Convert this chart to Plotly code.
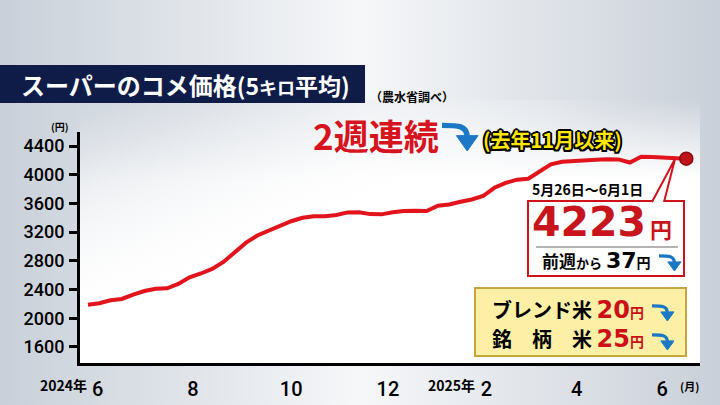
import base64
import pandas as pd
import plotly.graph_objects as go

# ---------------- data ----------------
week_start = pd.date_range("2024-05-27", periods=54, freq="7D")
prices = [2189, 2210, 2251, 2269, 2331, 2380, 2411, 2418, 2478, 2571,
          2624, 2687, 2784, 2915, 3054, 3153, 3220, 3291, 3352, 3400,
          3421, 3422, 3439, 3475, 3476, 3451, 3448, 3478, 3496, 3497,
          3494, 3567, 3586, 3624, 3655, 3703, 3818, 3886, 3931, 3944,
          4049, 4144, 4181, 4194, 4202, 4208, 4215, 4213, 4170, 4250,
          4245, 4238, 4232, 4223]
y_ticks = [1600, 2000, 2400, 2800, 3200, 3600, 4000, 4400]
x_tick_dates = ["2024-06-02", "2024-07-31", "2024-09-30", "2024-11-29",
                "2025-01-29", "2025-03-26", "2025-05-18"]
x_tick_text = ["6", "8", "10", "12", "2", "4", "6"]
latest_label = "5月26日〜6月1日"
latest_price = 4223
weekly_change = 37
blend_change = 20
brand_change = 25

# ---------------- layout helpers ----------------
L, R, T, B = 80, 700, 132, 363
W, H = R - L, B - T


def px(x):
    return (x - L) / W


def py(y):
    return (B - y) / H


RED = "#d7141d"
BLUE = "#1b78c4"
JP = "Noto Sans CJK JP"

bg_svg = """<svg xmlns='http://www.w3.org/2000/svg' width='720' height='405' viewBox='0 0 720 405' preserveAspectRatio='none'>
<defs>
<linearGradient id='h' x1='0' y1='0' x2='1' y2='0'>
<stop offset='0' stop-color='#c9d0d9'/><stop offset='0.28' stop-color='#e2e6eb'/>
<stop offset='0.5' stop-color='#f6f7f9'/><stop offset='0.72' stop-color='#e2e6eb'/>
<stop offset='1' stop-color='#cad0d9'/>
</linearGradient>
<linearGradient id='v' x1='0' y1='0' x2='0' y2='1'>
<stop offset='0' stop-color='#ffffff' stop-opacity='0'/><stop offset='0.3' stop-color='#ffffff' stop-opacity='1'/>
</linearGradient>
<linearGradient id='d' x1='0' y1='0' x2='1' y2='1'>
<stop offset='0' stop-color='#d0d6de' stop-opacity='1'/><stop offset='0.45' stop-color='#ffffff' stop-opacity='0'/>
</linearGradient>
</defs>
<rect width='720' height='405' fill='url(#h)'/>
<rect x='80' y='100' width='620' height='263' fill='url(#v)'/>
<rect x='80' y='100' width='620' height='263' fill='url(#d)'/>
</svg>"""
bg_src = "data:image/svg+xml;base64," + base64.b64encode(bg_svg.encode()).decode()

fig = go.Figure()
fig.add_trace(go.Scatter(
    x=week_start, y=prices, mode="lines",
    line=dict(color="#e3131b", width=4), hoverinfo="skip"))
fig.add_trace(go.Scatter(
    x=[week_start[-1]], y=[prices[-1]], mode="markers",
    marker=dict(size=13, color="#c0121a", line=dict(color="#8a0b10", width=1.5)),
    hoverinfo="skip"))


def arrow(x0, y0, w, h):
    """curved blue arrow (right, then down) inside pixel box"""
    sw = max(2.5, 0.17 * h)
    xs = x0 + 0.70 * w
    path = (f"M {px(x0)},{py(y0 + 0.2 * h)} "
            f"C {px(x0 + 0.45 * w)},{py(y0 + 0.2 * h)} {px(xs)},{py(y0 + 0.2 * h)} "
            f"{px(xs)},{py(y0 + 0.58 * h)}")
    head = (f"M {px(xs - 0.30 * w)},{py(y0 + 0.52 * h)} L {px(xs + 0.30 * w)},{py(y0 + 0.52 * h)} "
            f"L {px(xs)},{py(y0 + h)} Z")
    return [dict(type="path", xref="paper", yref="paper", path=path,
                 line=dict(color=BLUE, width=sw)),
            dict(type="path", xref="paper", yref="paper", path=head,
                 fillcolor=BLUE, line=dict(color=BLUE, width=1))]


shapes = [
    # title box
    dict(type="rect", xref="paper", yref="paper", x0=px(0), x1=px(365),
         y0=py(103), y1=py(65), fillcolor="#0f1c48", line=dict(width=0), layer="above"),
    # callout box
    dict(type="rect", xref="paper", yref="paper", x0=px(528), x1=px(684),
         y0=py(276), y1=py(201), fillcolor="white", line=dict(color="#d0121b", width=2)),
    dict(type="path", xref="paper", yref="paper",
         path=f"M {px(652)},{py(202)} L {px(675)},{py(159)} L {px(664)},{py(202)}",
         fillcolor="white", line=dict(color="#d0121b", width=2)),
    dict(type="line", xref="paper", yref="paper", x0=px(536), x1=px(678),
         y0=py(247), y1=py(247), line=dict(color="#9a9a9a", width=1.5)),
    # yellow box
    dict(type="rect", xref="paper", yref="paper", x0=px(475), x1=px(686),
         y0=py(356), y1=py(288), fillcolor="#fdf0a6", line=dict(color="#c7a53c", width=2)),
]
shapes += arrow(442, 119, 36, 32)
shapes += arrow(659, 252, 22, 19)
shapes += arrow(652, 302, 22, 19)
shapes += arrow(652, 331, 22, 19)

ann = []


def add(text, x, y, size, color="black", xanchor="center", yanchor="middle",
        family=JP, **kw):
    ann.append(dict(text=text, x=px(x), y=py(y), xref="paper", yref="paper",
                    xanchor=xanchor, yanchor=yanchor, showarrow=False,
                    font=dict(size=size, color=color, family=family), **kw))


add("<b>スーパーのコメ価格<span style=\"font-size:23px\">(5<span style=\"font-size:18px\">キロ</span>平均)</span></b>",
    19, 85, 24, "white", xanchor="left")
add("<b>（農水省調べ）</b>", 368, 97, 12, xanchor="left")
add("<b>2週連続</b>", 376, 134, 35, RED)
ann.append(dict(text="<b>(去年11月以来)</b>", x=px(552), y=py(139), xref="paper", yref="paper",
                showarrow=False, xanchor="center", yanchor="middle",
                font=dict(size=20, color="#ffe600", family=JP,
                          shadow="2px 0 0 #000, -2px 0 0 #000, 0 2px 0 #000, 0 -2px 0 #000, "
                                 "1.5px 1.5px 0 #000, -1.5px -1.5px 0 #000, 1.5px -1.5px 0 #000, -1.5px 1.5px 0 #000")))
add(f"<b>{latest_label}</b>", 587, 189, 14)
add(f"<b>{latest_price}</b>", 648, 222, 41, "#c8141c", xanchor="right", family="DejaVu Sans")
add("<b>円</b>", 648, 228, 22, "#c8141c", xanchor="left")
add(f"<b>前週<span style=\"font-size:13px\">から</span> "
    f"<span style=\"font-family:DejaVu Sans;font-size:22px\">{weekly_change}</span>"
    f"<span style=\"font-size:14px\">円</span></b>",
    540, 260, 17, xanchor="left")
for label, val, yy in [("ブレンド米", blend_change, 309), ("銘　柄　米", brand_change, 338)]:
    add(f"<b>{label} <span style=\"color:#cc1018;font-family:DejaVu Sans;font-size:24px\">{val}</span>"
        f"<span style=\"color:#cc1018;font-size:14px\">円</span></b>",
        490, yy, 20, xanchor="left")
add("<b>(円)</b>", 60, 126, 10)
add("<b>(月)</b>", 689, 386, 11)
# year prefixes, anchored at their tick dates
for d, t in [(x_tick_dates[0], "2024年"), (x_tick_dates[4], "2025年")]:
    ann.append(dict(text=f"<b>{t}</b>", x=d, xref="x", y=py(385), yref="paper",
                    xanchor="right", yanchor="middle", xshift=-9, showarrow=False,
                    font=dict(size=14, color="black", family=JP)))

fig.update_layout(
    width=720, height=405,
    margin=dict(l=L, r=720 - R, t=T, b=405 - B, pad=0, autoexpand=False),
    paper_bgcolor="#dde1e7", plot_bgcolor="rgba(0,0,0,0)",
    showlegend=False,
    shapes=shapes, annotations=ann,
    images=[dict(source=bg_src, xref="paper", yref="paper", x=px(0), y=py(0),
                 sizex=720 / W, sizey=405 / H, xanchor="left", yanchor="top",
                 sizing="stretch", layer="below")],
    xaxis=dict(type="date", range=["2024-05-22 01:00", "2025-06-10 12:00"],
               tickvals=x_tick_dates, ticktext=x_tick_text, automargin=False,
               showgrid=False, zeroline=False, showline=True, linewidth=3, linecolor="black",
               ticks="", ticklabelstandoff=6,
               tickfont=dict(size=20, color="black", family="Roboto", weight=500)),
    yaxis=dict(range=[1377, 4595], tickvals=y_ticks, automargin=False,
               showgrid=False, zeroline=False, showline=True, linewidth=3, linecolor="black",
               ticks="outside", ticklen=8, tickwidth=3, tickcolor="black",
               ticklabelstandoff=1,
               tickfont=dict(size=18, color="black", family="Roboto", weight=500)),
)

fig.write_html("out.html", config={"displayModeBar": False},
               post_script="document.body.style.margin='0px';document.body.style.background='#dde1e7';")
